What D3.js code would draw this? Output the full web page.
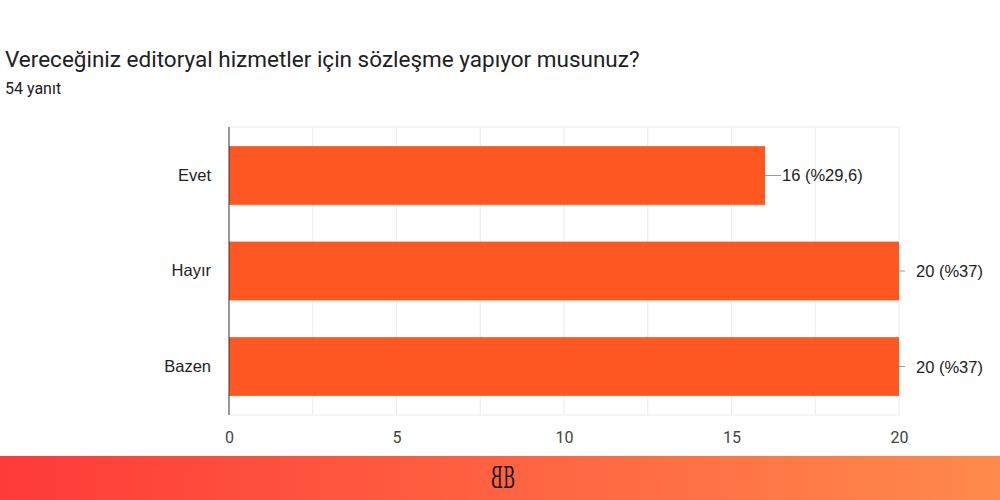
<!DOCTYPE html>
<html>
<head>
<meta charset="utf-8">
<script src="https://cdn.jsdelivr.net/npm/d3@7"></script>
<style>
  body { margin: 0; background: #fff; }
  svg { display: block; }
</style>
</head>
<body>
<svg id="chart" width="1000" height="500"></svg>
<script>
const categories = ["Evet", "Hayır", "Bazen"];
const counts = [16, 20, 20];
const valueLabels = ["16 (%29,6)", "20 (%37)", "20 (%37)"];
const tickValues = [0, 5, 10, 15, 20];
const gridValues = [2.5, 5, 7.5, 10, 12.5, 15, 17.5, 20];

const svg = d3.select("#chart");
const width = 1000;
const plotLeft = 229, plotRight = 899, plotTop = 127, plotBottom = 415;

// footer gradient band
const defs = svg.append("defs");
const grad = defs.append("linearGradient").attr("id", "foot").attr("x1", "0%").attr("x2", "100%");
grad.append("stop").attr("offset", "0%").attr("stop-color", "#ff3a38");
grad.append("stop").attr("offset", "100%").attr("stop-color", "#ff8a4b");
svg.append("rect").attr("x", 0).attr("y", 456).attr("width", width).attr("height", 44).attr("fill", "url(#foot)");

// logo: two mirrored B
const logo = svg.append("g").attr("transform", "translate(503,488)")
  .style("font-family", "'DejaVu Serif', serif").style("font-size", "30px").attr("fill", "#1a1a1a");
logo.append("text").attr("x", 0).attr("text-anchor", "start").attr("transform", "scale(0.55,1)").text("B");
logo.append("text").attr("x", 0).attr("text-anchor", "start").attr("transform", "scale(-0.55,1)").text("B");

svg.append("text").attr("x", 5).attr("y", 67)
  .style("font-family", "Roboto, sans-serif").style("font-size", "22.5px").attr("fill", "#202124")
  .text("Vereceğiniz editoryal hizmetler için sözleşme yapıyor musunuz?");
svg.append("text").attr("x", 5).attr("y", 94)
  .style("font-family", "Roboto, sans-serif").style("font-size", "16px").attr("fill", "#202124")
  .text("54 yanıt");

const x = d3.scaleLinear().domain([0, 20]).range([plotLeft, plotRight]);
const y = d3.scaleBand().domain(categories).range([plotTop, plotBottom]).paddingInner(0.385).paddingOuter(0.2);

// grid
svg.append("g").selectAll("line").data(gridValues).join("line")
  .attr("x1", d => x(d)).attr("x2", d => x(d)).attr("y1", plotTop).attr("y2", plotBottom)
  .attr("stroke", "#ebebeb").attr("stroke-width", 1);
svg.append("line").attr("x1", plotLeft).attr("x2", plotRight).attr("y1", plotTop).attr("y2", plotTop).attr("stroke", "#ebebeb");
svg.append("line").attr("x1", plotLeft).attr("x2", plotRight).attr("y1", plotBottom).attr("y2", plotBottom).attr("stroke", "#ebebeb");

// bars
svg.append("g").selectAll("rect").data(categories).join("rect")
  .attr("x", x(0)).attr("y", d => y(d))
  .attr("width", (d, i) => x(counts[i]) - x(0)).attr("height", y.bandwidth())
  .attr("fill", "#ff5722");

// leader lines + value labels
const lab = svg.append("g").style("font-family", "'Liberation Sans', Arial, sans-serif").style("font-size", "16.5px");
categories.forEach((c, i) => {
  const cy = y(c) + y.bandwidth() / 2;
  const full = counts[i] >= 20;
  const x0 = x(counts[i]);
  const x1 = full ? x0 + 6 : x0 + 16;
  lab.append("line").attr("x1", x0).attr("x2", x1).attr("y1", cy).attr("y2", cy).attr("stroke", "#999");
  lab.append("text").attr("x", full ? x0 + 17 : x1 + 1).attr("y", cy + 6).attr("fill", "#222").text(valueLabels[i]);
});

// y axis
const yAxis = svg.append("g").attr("transform", `translate(${plotLeft},0)`)
  .call(d3.axisLeft(y).tickSize(0).tickPadding(18));
yAxis.select(".domain").attr("stroke", "#333").attr("d", `M0,${plotTop}V${plotBottom}`);
yAxis.selectAll("text").style("font-family", "'Liberation Sans', Arial, sans-serif").style("font-size", "16.5px").attr("fill", "#222");

// x axis
const xAxis = svg.append("g").attr("transform", `translate(0,${plotBottom})`)
  .call(d3.axisBottom(x).tickValues(tickValues).tickSize(0).tickPadding(17));
xAxis.select(".domain").remove();
xAxis.selectAll("text").style("font-family", "Roboto, sans-serif").style("font-size", "16px").attr("fill", "#444");
</script>
</body>
</html>
